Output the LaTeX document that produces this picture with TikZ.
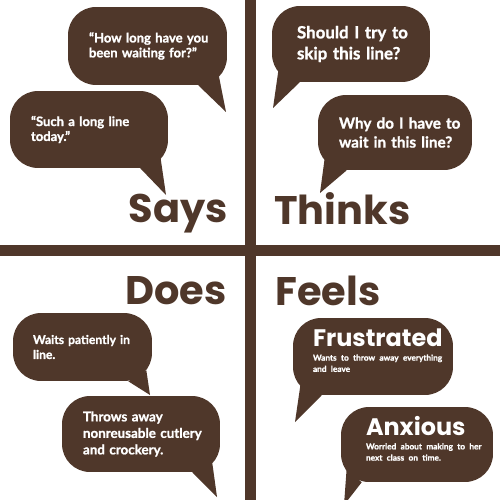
\documentclass[tikz,border=0pt]{standalone}
\usepackage{fontspec}
\setmainfont{Lato}[BoldFeatures={FakeBold=1.2}]
\newfontfamily\headfont{Poppins}
\usetikzlibrary{calc}
\definecolor{bark}{RGB}{79,55,42}

\begin{document}
\begin{tikzpicture}[x=0.02cm,y=-0.02cm,
  pad/.style={execute at begin node={\leftskip=#1}},
  fs/.style 2 args={font=\bfseries\fontsize{#1}{#2}\selectfont},
  bubble/.style={fill=bark,text=white,rounded corners=0.56cm,inner xsep=0.2cm,inner ysep=0pt,align=left,pad=0.22cm,fs={7.4}{8.5}},
  tail/.style={fill=bark},
  head/.style={text=bark,inner sep=0pt,font=\headfont\bfseries\fontsize{22.7}{24}\selectfont}]
  \useasboundingbox[fill=white] (0,0) rectangle (500,500);
  \clip (0,0) rectangle (500,500);
  % the cross
  \fill[bark] (244.5,0) rectangle (255.5,500);
  \fill[bark] (0,244.5) rectangle (500,255.5);
  % headings
  \node[head,anchor=base east] (says) at (228,222) {Says};
  \node[head,anchor=base west] (thinks) at (274,224) {Thinks};
  \node[head,anchor=base east] (does) at (227,304) {Does};
  \node[head,anchor=base west] (feels) at (275,305) {Feels};
  % says
  \node[bubble,text width=2.78cm,minimum height=1.56cm] (say1) at (147.5,46) {“How long have you\\been waiting for?”};
  \node[bubble,text width=2.76cm,minimum height=1.54cm] (say2) at (89,129.5) {“Such a long line\\today.”};
  % thinks
  \node[bubble,pad=0.3cm,fs={9.6}{11.9},text width=2.76cm,minimum height=1.52cm] (think1) at (351,44) {Should I try to\\skip this line?};
  \node[bubble,fs={8.7}{10.8},text width=2.68cm,minimum height=1.5cm] (think2) at (395,132.5) {Why do I have to\\wait in this line?};
  % does
  \node[bubble,pad=0.2cm,fs={6.9}{8.5},text width=2.38cm,minimum height=1.36cm] (do1) at (82.5,347) {Waits patiently in\\line.};
  \node[bubble,fs={7.6}{9.4},text width=2.76cm,minimum height=1.52cm] (do2) at (141,434) {Throws away\\nonreusable cutlery\\and crockery.};
  % feels
  \node[bubble,pad=0.2cm,text width=2.8cm,minimum height=1.54cm] (feel1) at (373,356.5)
    {{\headfont\fontsize{13.6}{14}\selectfont Frustrated}\\[1.5pt]\fontsize{4.7}{6.4}\selectfont Wants to throw away everything\\and leave\rule[-0.24cm]{0pt}{0pt}\par};
  \node[bubble,pad=0.3cm,text width=2.64cm,minimum height=1.5cm] (feel2) at (417,444.5)
    {{\headfont\fontsize{13.6}{14}\selectfont Anxious}\\[1.5pt]\fontsize{4.7}{6.4}\selectfont Worried about making to her\\next class on time.\rule[-0.24cm]{0pt}{0pt}\par};
  % tails
  \coordinate (say1tip) at (226,112);
  \coordinate (say2tip) at (166,195);
  \coordinate (think1tip) at (273,108);
  \coordinate (think2tip) at (320,193);
  \coordinate (do1tip) at (150,395);
  \coordinate (do2tip) at (217,497);
  \coordinate (feel1tip) at (295,422);
  \coordinate (feel2tip) at (344,505);
  \fill[tail] ($(say1.south east)+(-29,0)$) -- (say1tip) -- ($(say1.south east)+(-9,-12)$) -- cycle;
  \fill[tail] ($(say2.south east)+(-28,0)$) -- (say2tip) -- ($(say2.south east)+(-8,-12)$) -- cycle;
  \fill[tail] ($(think1.south west)+(28,0)$) -- (think1tip) -- ($(think1.south west)+(7,-14)$) -- cycle;
  \fill[tail] ($(think2.south west)+(29,0)$) -- (think2tip) -- ($(think2.south west)+(7,-12)$) -- cycle;
  \fill[tail] ($(do1.south east)+(-24,0)$) -- (do1tip) -- ($(do1.south east)+(-6,-11)$) -- cycle;
  \fill[tail] ($(do2.south east)+(-28,0)$) -- (do2tip) -- ($(do2.south east)+(-8,-9)$) -- cycle;
  \fill[tail] ($(feel1.south west)+(29,0)$) -- (feel1tip) -- ($(feel1.south west)+(8,-12)$) -- cycle;
  \fill[tail] ($(feel2.south west)+(21,0)$) -- (feel2tip) -- ($(feel2.south west)+(6,-14)$) -- cycle;
\end{tikzpicture}
\end{document}
